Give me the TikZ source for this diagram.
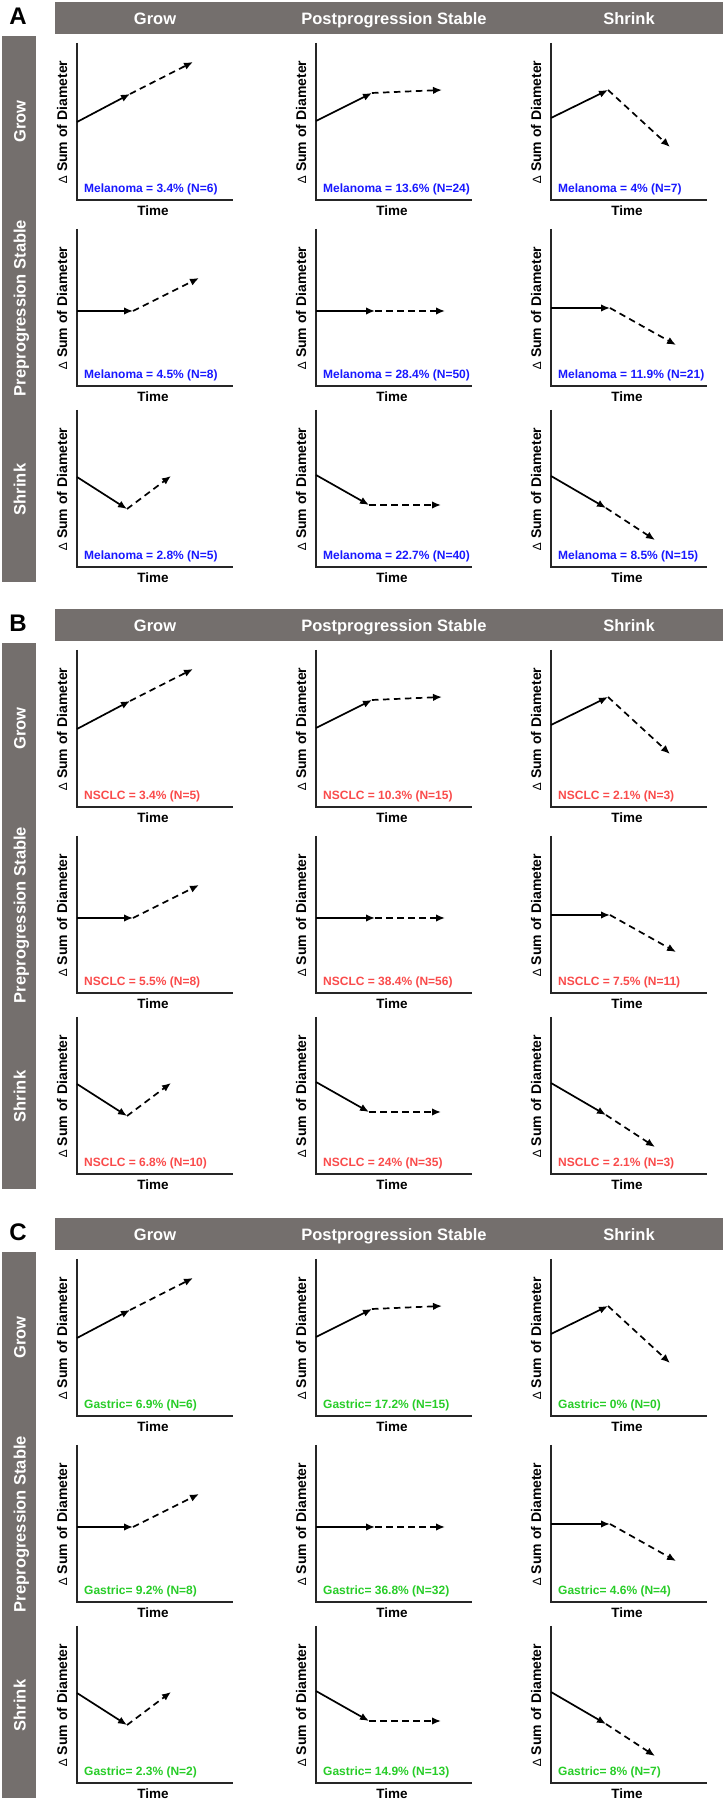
\documentclass[tikz,border=0pt]{standalone}
\usepackage{fontspec}
\setmainfont{Liberation Sans}
\usetikzlibrary{arrows.meta}
\definecolor{barcol}{RGB}{116,111,109}
\definecolor{melblue}{RGB}{25,25,255}
\definecolor{nsred}{RGB}{250,75,75}
\definecolor{gasgreen}{RGB}{40,205,40}
\tikzset{
  axisline/.style={line width=1.6pt, draw=black!85},
  solidarr/.style={line width=1.7pt, -{Latex[length=9pt,width=7.5pt]}},
  dasharr/.style={line width=1.7pt, dash pattern=on 6.5pt off 4.5pt, -{Latex[length=9pt,width=7.5pt]}},
  ylab/.style={rotate=90, inner sep=0pt, font=\bfseries\fontsize{14}{16}\selectfont},
  timelab/.style={inner sep=0pt, font=\bfseries\fontsize{13.5}{15}\selectfont},
  pct/.style={inner sep=0pt, anchor=base west, font=\bfseries\fontsize{12}{14}\selectfont, text=melblue},
  hdrbar/.style={fill=barcol, inner sep=0pt, minimum width=668pt, minimum height=32pt},
  sidebar/.style={fill=barcol, inner sep=0pt, minimum width=34pt, minimum height=546pt},
  hdrtext/.style={text=white, inner sep=0pt, anchor=base, font=\bfseries\fontsize{16.5}{18}\selectfont},
  rowtext/.style={text=white, inner sep=0pt, rotate=90, anchor=base, font=\bfseries\fontsize{16.5}{18}\selectfont},
  pletter/.style={inner sep=0pt, anchor=base, font=\bfseries\fontsize{24}{26}\selectfont}
}
% #1 name, #2 x0, #3 y of axis bottom (from top), #4 start y, #5 kink x, #6 kink y, #7 end x, #8 end y, #9 label
\newcommand{\myplt}[9]{%
\begin{scope}[shift={(#2,1800-#3)}]
  \coordinate (#1-top) at (0,157);
  \coordinate (#1-o) at (0,0);
  \coordinate (#1-r) at (156,0);
  \coordinate (#1-s) at (0,#4);
  \coordinate (#1-k) at (#5,#6);
  \coordinate (#1-e) at (#7,#8);
  \draw[axisline] (#1-top) -- (#1-o) -- (#1-r);
  \draw[solidarr] (#1-s) -- (#1-k);
  \draw[dasharr] (#1-k) -- (#1-e);
  \node[ylab] (#1-yl) at (-15,78) {{\mdseries\fontsize{12}{12}\selectfont ∆} Sum of Diameter};
  \node[timelab] (#1-tl) at (76,-11) {Time};
  \node[pct] (#1-pl) at (7,7.5) {#9};
\end{scope}}
\newcommand{\myframe}[2]{%
  \node[pletter] (#2-let) at (18,1775) {#1};
  \node[hdrbar] (#2-hdr) at (389,1782) {};
  \node[sidebar] (#2-side) at (19,1491) {};
  \node[hdrtext] (#2-h1) at (155,1775) {Grow};
  \node[hdrtext] (#2-h2) at (394,1775) {Postprogression Stable};
  \node[hdrtext] (#2-h3) at (629,1775) {Shrink};
  \node[rowtext] (#2-r1) at (25.5,1678.5) {Grow};
  \node[rowtext] (#2-r2) at (25.5,1492) {Preprogression Stable};
  \node[rowtext] (#2-r3) at (25.5,1310.5) {Shrink};
}
\begin{document}
\begin{tikzpicture}[x=1pt,y=1pt]
\useasboundingbox[fill=white] (0,0) rectangle (726,1800);
% Panel A
\begin{scope}
  \myframe{A}{A}
  \myplt{A11}{77}{200}{78}{53}{106}{116}{138}{Melanoma = 3.4\% (N=6)}
  \myplt{A12}{316}{200}{79}{56}{107}{126}{110}{Melanoma = 13.6\% (N=24)}
  \myplt{A13}{551}{200}{82}{57}{110}{119}{53}{Melanoma = 4\% (N=7)}
  \myplt{A21}{77}{386}{75}{56}{75}{122}{108}{Melanoma = 4.5\% (N=8)}
  \myplt{A22}{316}{386}{75}{59}{75}{129}{75}{Melanoma = 28.4\% (N=50)}
  \myplt{A23}{551}{386}{78}{59}{78}{125}{41}{Melanoma = 11.9\% (N=21)}
  \myplt{A31}{77}{567}{90}{50}{58}{94}{91}{Melanoma = 2.8\% (N=5)}
  \myplt{A32}{316}{567}{92}{53}{62}{125}{62}{Melanoma = 22.7\% (N=40)}
  \myplt{A33}{551}{567}{91}{55}{59}{104}{27}{Melanoma = 8.5\% (N=15)}
\end{scope}
% Panel B
\begin{scope}[shift={(0,-607)}, pct/.append style={text=nsred}]
  \myframe{B}{B}
  \myplt{B11}{77}{200}{78}{53}{106}{116}{138}{NSCLC = 3.4\% (N=5)}
  \myplt{B12}{316}{200}{79}{56}{107}{126}{110}{NSCLC = 10.3\% (N=15)}
  \myplt{B13}{551}{200}{82}{57}{110}{119}{53}{NSCLC = 2.1\% (N=3)}
  \myplt{B21}{77}{386}{75}{56}{75}{122}{108}{NSCLC = 5.5\% (N=8)}
  \myplt{B22}{316}{386}{75}{59}{75}{129}{75}{NSCLC = 38.4\% (N=56)}
  \myplt{B23}{551}{386}{78}{59}{78}{125}{41}{NSCLC = 7.5\% (N=11)}
  \myplt{B31}{77}{567}{90}{50}{58}{94}{91}{NSCLC = 6.8\% (N=10)}
  \myplt{B32}{316}{567}{92}{53}{62}{125}{62}{NSCLC = 24\% (N=35)}
  \myplt{B33}{551}{567}{91}{55}{59}{104}{27}{NSCLC = 2.1\% (N=3)}
\end{scope}
% Panel C
\begin{scope}[shift={(0,-1216)}, pct/.append style={text=gasgreen}]
  \myframe{C}{C}
  \myplt{C11}{77}{200}{78}{53}{106}{116}{138}{Gastric= 6.9\% (N=6)}
  \myplt{C12}{316}{200}{79}{56}{107}{126}{110}{Gastric= 17.2\% (N=15)}
  \myplt{C13}{551}{200}{82}{57}{110}{119}{53}{Gastric= 0\% (N=0)}
  \myplt{C21}{77}{386}{75}{56}{75}{122}{108}{Gastric= 9.2\% (N=8)}
  \myplt{C22}{316}{386}{75}{59}{75}{129}{75}{Gastric= 36.8\% (N=32)}
  \myplt{C23}{551}{386}{78}{59}{78}{125}{41}{Gastric= 4.6\% (N=4)}
  \myplt{C31}{77}{567}{90}{50}{58}{94}{91}{Gastric= 2.3\% (N=2)}
  \myplt{C32}{316}{567}{92}{53}{62}{125}{62}{Gastric= 14.9\% (N=13)}
  \myplt{C33}{551}{567}{91}{55}{59}{104}{27}{Gastric= 8\% (N=7)}
\end{scope}
\end{tikzpicture}
\end{document}
